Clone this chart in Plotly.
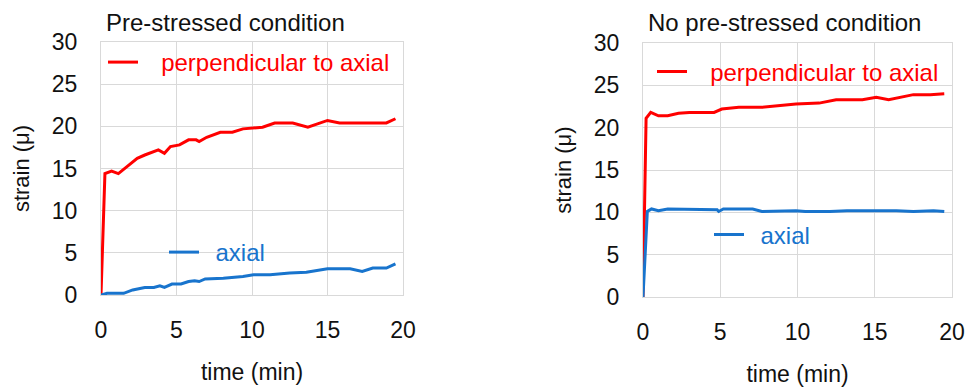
import plotly.graph_objects as go

# ---- data: Pre-stressed condition ----
pre_perp_t = [0, 0.26, 0.7, 1.15, 1.7, 2.4, 2.9, 3.5, 3.8, 4.2, 4.6, 5.2, 5.8, 6.3, 6.5, 7.0,
              7.9, 8.7, 9.4, 10.7, 11.5, 12.7, 13.7, 15.0, 15.8, 18.9, 19.5]
pre_perp_v = [0, 14.4, 14.7, 14.4, 15.2, 16.2, 16.6, 17.0, 17.2, 16.8, 17.6, 17.8, 18.4, 18.4, 18.2, 18.7,
              19.3, 19.3, 19.7, 19.9, 20.4, 20.4, 19.9, 20.7, 20.4, 20.4, 20.9]
pre_axial_t = [0, 0.4, 1.5, 2.1, 2.9, 3.5, 3.9, 4.2, 4.7, 5.3, 5.8, 6.2, 6.5, 6.9, 8.1, 9.4, 10.1,
               11.2, 12.5, 13.6, 15.0, 16.5, 17.3, 18.0, 18.9, 19.5]
pre_axial_v = [0, 0.2, 0.2, 0.6, 0.9, 0.9, 1.1, 0.9, 1.3, 1.3, 1.6, 1.7, 1.6, 1.9, 2.0, 2.2, 2.4,
               2.4, 2.6, 2.7, 3.1, 3.1, 2.8, 3.2, 3.2, 3.7]

# ---- data: No pre-stressed condition ----
nop_perp_t = [0, 0.2, 0.5, 1.0, 1.6, 2.3, 3.0, 4.6, 5.1, 6.2, 7.7, 9.9, 11.4, 12.5, 14.2, 15.1,
              15.9, 16.6, 17.5, 18.6, 19.5]
nop_perp_v = [0, 21.1, 21.8, 21.4, 21.4, 21.7, 21.8, 21.8, 22.2, 22.4, 22.4, 22.8, 22.9, 23.3, 23.3, 23.6,
              23.3, 23.6, 23.9, 23.9, 24.0]
nop_axial_t = [0, 0.28, 0.55, 1.0, 1.6, 4.8, 4.9, 5.2, 7.1, 7.7, 9.9, 10.5, 12.1, 13.2, 16.4, 17.5,
               18.8, 19.5]
nop_axial_v = [0, 10.1, 10.4, 10.2, 10.4, 10.3, 10.1, 10.4, 10.4, 10.1, 10.2, 10.1, 10.1, 10.2, 10.2, 10.1,
               10.2, 10.1]

panel_titles = ["Pre-stressed condition", "No pre-stressed condition"]
series_names = ["perpendicular to axial", "axial"]
x_ticks = [0, 5, 10, 15, 20]
y_ticks = [0, 5, 10, 15, 20, 25, 30]
x_title = "time (min)"
y_title = "strain (\u03bc)"

RED = "#ff0000"
BLUE = "#1874cd"
INK = "#111111"
FONT = "Liberation Sans, Arial, sans-serif"
W, H = 970, 392

PAD_LONG = "\u00a0\u00a0\u2009"
PAD_SHORT = "\u00a0\u2009"

fig = go.Figure()
fig.add_trace(go.Scatter(x=pre_perp_t, y=pre_perp_v, mode="lines", name=PAD_LONG + series_names[0],
                         line=dict(color=RED, width=3), xaxis="x", yaxis="y", legend="legend"))
fig.add_trace(go.Scatter(x=pre_axial_t, y=pre_axial_v, mode="lines", name=PAD_SHORT + series_names[1],
                         line=dict(color=BLUE, width=3), xaxis="x", yaxis="y", legend="legend2"))
fig.add_trace(go.Scatter(x=nop_perp_t, y=nop_perp_v, mode="lines", name=PAD_LONG + series_names[0],
                         line=dict(color=RED, width=3), xaxis="x2", yaxis="y2", legend="legend3"))
fig.add_trace(go.Scatter(x=nop_axial_t, y=nop_axial_v, mode="lines", name=PAD_SHORT + series_names[1],
                         line=dict(color=BLUE, width=3), xaxis="x2", yaxis="y2", legend="legend4"))

def px_x(p):
    return p / W

def px_y(p):
    return 1 - p / H

grid = "#d9d9d9"
common_x = dict(range=[0, 20], tickvals=x_ticks, showgrid=True, gridcolor=grid, gridwidth=1,
                zeroline=False, showline=True, linecolor=grid, mirror=True, ticks="",
                automargin=False,
                ticklabelstandoff=14, tickfont=dict(family=FONT, size=23, color=INK),
                title=dict(text=x_title, font=dict(family=FONT, size=23, color=INK), standoff=22))
common_y = dict(range=[0, 30], tickvals=y_ticks, showgrid=True, gridcolor=grid, gridwidth=1,
                zeroline=False, showline=True, linecolor=grid, mirror=True, ticks="",
                automargin=False,
                ticklabelstandoff=18, tickfont=dict(family=FONT, size=23, color=INK),
                title=dict(text=y_title, font=dict(family=FONT, size=22, color=INK), standoff=16))

leg_common = dict(bgcolor="rgba(0,0,0,0)", borderwidth=0, xanchor="left", yanchor="middle",
                  itemwidth=30, tracegroupgap=0)

fig.update_layout(
    width=W, height=H,
    margin=dict(l=0, r=0, t=0, b=0, autoexpand=False),
    paper_bgcolor="white", plot_bgcolor="white",
    showlegend=True,
    xaxis=dict(domain=[px_x(101), px_x(403)], anchor="y", **common_x),
    yaxis=dict(domain=[px_y(295), px_y(42)], anchor="x", **common_y),
    xaxis2=dict(domain=[px_x(643), px_x(952)], anchor="y2", **common_x),
    yaxis2=dict(domain=[px_y(297), px_y(43)], anchor="x2", **common_y),
    legend=dict(x=px_x(103), y=px_y(62.5), font=dict(family=FONT, size=24, color=RED), **leg_common),
    legend2=dict(x=px_x(164), y=px_y(252.5), font=dict(family=FONT, size=24, color=BLUE), **leg_common),
    legend3=dict(x=px_x(652), y=px_y(72), font=dict(family=FONT, size=24, color=RED), **leg_common),
    legend4=dict(x=px_x(709), y=px_y(235), font=dict(family=FONT, size=24, color=BLUE), **leg_common),
    annotations=[
        dict(text=panel_titles[0], x=px_x(104), y=px_y(22), xref="paper", yref="paper",
             xanchor="left", yanchor="middle", showarrow=False,
             font=dict(family=FONT, size=24, color=INK)),
        dict(text=panel_titles[1], x=px_x(646), y=px_y(22), xref="paper", yref="paper",
             xanchor="left", yanchor="middle", showarrow=False,
             font=dict(family=FONT, size=24, color=INK)),
    ],
)

fig.write_html("out.html", config={"displayModeBar": False},
               post_script="document.body.style.margin='0';")
